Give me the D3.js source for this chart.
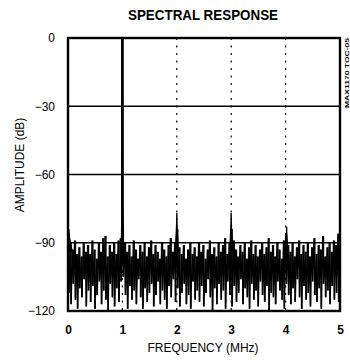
<!DOCTYPE html>
<html>
<head>
<meta charset="utf-8">
<script src="https://cdn.jsdelivr.net/npm/d3@7"></script>
<style>
  body { margin: 0; background: #fff; }
  svg text { font-family: "Liberation Sans Narrow", "Liberation Sans", Arial, sans-serif; fill: #000; }
</style>
</head>
<body>
<svg id="chart" width="350" height="360"></svg>
<script>
// axis ticks
const xTicks = [0, 1, 2, 3, 4, 5];
const yTicks = [0, -30, -60, -90, -120];

// noise floor, read per 0.04 MHz bin: top and bottom of the trace (dB)
const noiseHi = [
  -84,-90,-93,-89,-95,-92,-96,-90,-94,-91,
  -95,-89,-93,-97,-90,-94,-88,-87,-96,-91,
  -94,-90,-95,-89,-88,-82,-90,-94,-91,-96,
  -89,-93,-97,-91,-94,-90,-96,-92,-89,-95,
  -91,-94,-97,-90,-93,-96,-91,-88,-94,-90,
  -84,-92,-95,-91,-97,-93,-90,-95,-92,-96,
  -90,-94,-91,-97,-93,-89,-95,-92,-96,-90,
  -94,-91,-88,-95,-90,-84,-89,-93,-96,-91,
  -94,-90,-97,-92,-89,-95,-91,-96,-93,-90,
  -95,-92,-88,-94,-91,-96,-90,-93,-97,-89,
  -86,-91,-94,-90,-96,-92,-89,-95,-91,-94,
  -90,-96,-92,-88,-95,-91,-93,-87,-96,-92,
  -90,-94,-89,-91,-86
];
const noiseLo = [
  -112,-117,-108,-115,-119,-110,-114,-106,-118,-111,
  -116,-109,-119,-113,-107,-117,-111,-115,-120,-108,
  -114,-118,-110,-116,-107,-105,-113,-119,-109,-115,
  -111,-117,-106,-114,-119,-110,-116,-112,-108,-118,
  -113,-107,-117,-111,-115,-119,-109,-114,-106,-116,
  -110,-118,-112,-108,-117,-113,-119,-107,-115,-111,
  -116,-109,-118,-112,-106,-114,-120,-110,-117,-108,
  -115,-111,-119,-107,-113,-118,-109,-116,-112,-106,
  -117,-110,-114,-119,-108,-115,-111,-118,-107,-113,
  -116,-109,-120,-112,-114,-117,-107,-111,-115,-119,
  -108,-113,-117,-110,-116,-106,-114,-119,-109,-115,
  -112,-118,-107,-113,-116,-110,-119,-108,-114,-111,
  -117,-109,-115,-112,-116
];
const binWidth = 0.04;

// fundamental and harmonics (MHz, dB)
const toneFreq = [0.0, 1.0, 2.0, 3.0, 4.02, 5.0];
const toneDb   = [-79, 0, -77, -77, -83, -80];

const svg = d3.select("#chart");
const margin = {top: 38, right: 10, bottom: 49, left: 68};
const W = 340 - margin.left, H = 311 - margin.top;

const x = d3.scaleLinear().domain([0, 5]).range([margin.left, margin.left + W]);
const y = d3.scaleLinear().domain([-120, 0]).range([margin.top + H, margin.top]);

// title
svg.append("text")
  .attr("x", 203).attr("y", 20)
  .attr("text-anchor", "middle")
  .attr("font-size", 15).attr("font-weight", "bold")
  .attr("textLength", 150).attr("lengthAdjust", "spacingAndGlyphs")
  .text("SPECTRAL RESPONSE");

// grid
svg.append("g")
  .selectAll("line")
  .data(yTicks.filter(d => d !== 0 && d !== -120))
  .join("line")
    .attr("x1", x(0)).attr("x2", x(5))
    .attr("y1", d => y(d)).attr("y2", d => y(d))
    .attr("stroke", "#000").attr("stroke-width", 1.4);

svg.append("g")
  .selectAll("line")
  .data(xTicks.filter(d => d > 0 && d < 5))
  .join("line")
    .attr("x1", d => x(d)).attr("x2", d => x(d))
    .attr("y1", y(0)).attr("y2", y(-120))
    .attr("stroke", "#000").attr("stroke-width", 1.2)
    .attr("stroke-dasharray", "2,5.5");

// noise trace: a bar per bin plus a zigzag between its top and bottom
const bw = x(binWidth) - x(0);
svg.append("g")
  .selectAll("rect")
  .data(noiseHi)
  .join("rect")
    .attr("x", (d, i) => x(i * binWidth))
    .attr("width", bw * 0.75)
    .attr("y", d => y(d))
    .attr("height", (d, i) => y(noiseLo[i]) - y(d))
    .attr("fill", "#000");

const pts = [];
noiseHi.forEach((h, i) => {
  pts.push([i * binWidth, h]);
  pts.push([i * binWidth + binWidth / 2, noiseLo[i]]);
});
const line = d3.line()
  .x(d => x(d[0]))
  .y(d => y(d[1]));

svg.append("path")
  .datum(pts)
  .attr("fill", "none")
  .attr("stroke", "#000")
  .attr("stroke-width", 1.2)
  .attr("d", line);

// tones
const toneShape = (f, db) => {
  const w = f === 0 ? 0.08 : (f === 1.0 ? 0.025 : 0.03);
  const skirt = f === 1.0 ? -72 : Math.max(db - 6, -88);
  return [
    [Math.max(0, f - w), -94],
    [Math.max(0, f - 0.008), skirt],
    [f, db],
    [Math.min(5, f + 0.008), skirt],
    [Math.min(5, f + w), -94]
  ];
};
svg.append("g")
  .selectAll("path")
  .data(toneFreq.map((f, i) => toneShape(f, toneDb[i])))
  .join("path")
    .attr("fill", "#000")
    .attr("stroke", "#000")
    .attr("stroke-width", 1)
    .attr("d", line);

svg.append("line")
  .attr("x1", x(1)).attr("x2", x(1))
  .attr("y1", y(0)).attr("y2", y(-100))
  .attr("stroke", "#000").attr("stroke-width", 2.8);

// frame
svg.append("rect")
  .attr("x", x(0)).attr("y", y(0))
  .attr("width", W).attr("height", H)
  .attr("fill", "none")
  .attr("stroke", "#000").attr("stroke-width", 2.4);

// axes labels
const gx = svg.append("g")
  .attr("transform", `translate(0,${y(-120)})`)
  .call(d3.axisBottom(x).tickValues(xTicks).tickSize(0).tickPadding(14).tickFormat(d3.format("d")));
gx.select(".domain").remove();
gx.selectAll("text").attr("font-size", 12).attr("font-weight", "bold")
  .style("font-family", "'Liberation Sans Narrow', 'Liberation Sans', Arial, sans-serif");

const gy = svg.append("g")
  .attr("transform", `translate(${x(0)},0)`)
  .call(d3.axisLeft(y).tickValues(yTicks).tickSize(0).tickPadding(13).tickFormat(d3.format("d")));
gy.select(".domain").remove();
gy.selectAll("text").attr("font-size", 12)
  .style("font-family", "'Liberation Sans Narrow', 'Liberation Sans', Arial, sans-serif");

svg.append("text")
  .attr("x", 203).attr("y", 352)
  .attr("text-anchor", "middle")
  .attr("font-size", 12)
  .text("FREQUENCY (MHz)");

svg.append("text")
  .attr("transform", "translate(24,165) rotate(-90)")
  .attr("text-anchor", "middle")
  .attr("font-size", 12)
  .text("AMPLITUDE (dB)");

svg.append("text")
  .attr("transform", "translate(349,73) rotate(-90)")
  .attr("text-anchor", "middle")
  .attr("font-size", 6).attr("font-weight", "bold")
  .attr("textLength", 70).attr("lengthAdjust", "spacingAndGlyphs")
  .text("MAX1170 TOC-05");
</script>
</body>
</html>
